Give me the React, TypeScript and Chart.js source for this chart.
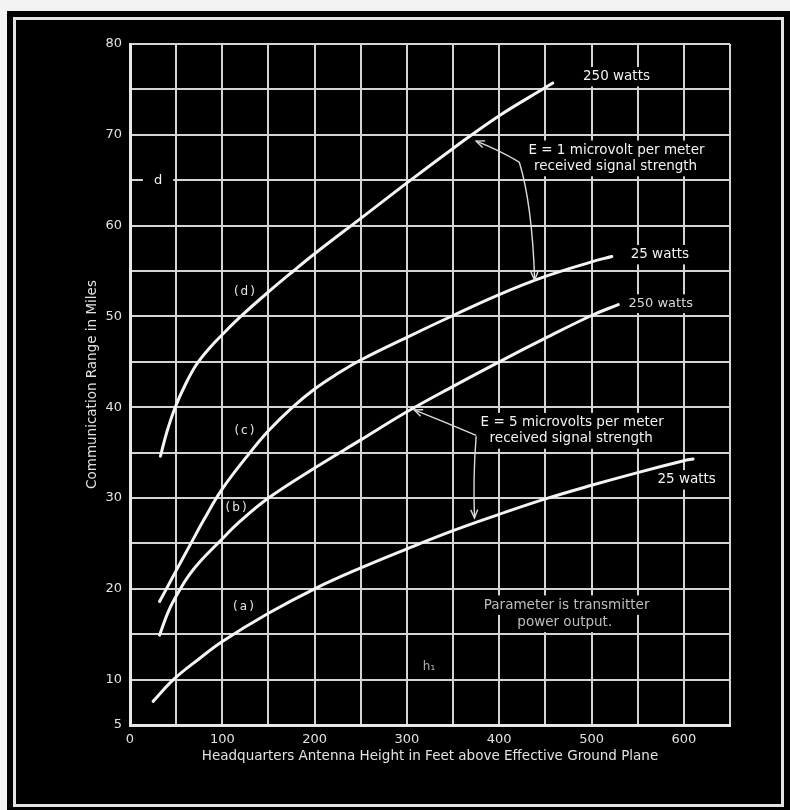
import React, { useEffect, useRef } from 'react';
import { Chart, registerables } from 'chart.js';

Chart.register(...registerables);

// Curve (d): 250 watts, E = 1 microvolt per meter
const curveDX = [33, 40, 49, 60, 72, 86, 100, 120, 150, 177, 200, 250, 300, 350, 400, 450, 458];
const curveDY = [34.6, 37.3, 40, 42.5, 44.7, 46.5, 48, 50, 52.7, 55, 56.9, 60.8, 64.7, 68.5, 72.1, 75.2, 75.7];
// Curve (c): 25 watts, E = 1 microvolt per meter
const curveCX = [32, 40, 50, 66, 80, 100, 130, 150, 175, 200, 225, 250, 300, 350, 400, 450, 500, 522];
const curveCY = [18.6, 20.1, 22, 25, 27.6, 31, 35, 37.4, 39.9, 42, 43.7, 45.2, 47.7, 50.1, 52.4, 54.4, 56, 56.6];
// Curve (b): 250 watts, E = 5 microvolts per meter
const curveBX = [32, 42, 54, 64, 75, 96, 120, 150, 200, 250, 300, 350, 400, 450, 500, 529];
const curveBY = [14.9, 17.6, 19.9, 21.5, 22.9, 25.1, 27.5, 30, 33.3, 36.4, 39.5, 42.3, 45, 47.6, 50.1, 51.3];
// Curve (a): 25 watts, E = 5 microvolts per meter
const curveAX = [25, 47, 75, 100, 150, 200, 250, 300, 350, 400, 450, 500, 550, 600, 610];
const curveAY = [7.6, 10, 12.3, 14.2, 17.3, 20, 22.3, 24.4, 26.4, 28.2, 29.9, 31.4, 32.8, 34.1, 34.3];

const xTickLabels = [0, 100, 200, 300, 400, 500, 600];
const yTickLabels = [5, 10, 20, 30, 40, 50, 60, 70, 80];

const X_MIN = 0, X_MAX = 650, X_STEP = 50;
const Y_MIN = 5, Y_MAX = 80, Y_STEP = 5;

const xTitle = 'Headquarters Antenna Height in Feet above Effective Ground Plane';
const yTitle = 'Communication Range in Miles';

// Annotation texts (data coordinates)
const noteTexts = [
  { text: '250 watts', x: 527, y: 76.4, size: 13.5, color: '#f2f2f2', spacing: 0, box: true },
  { text: 'E = 1 microvolt per meter', x: 527, y: 68.3, size: 13.5, color: '#f2f2f2', spacing: 0, box: true },
  { text: 'received signal strength', x: 526, y: 66.5, size: 13.5, color: '#f2f2f2', spacing: 0, box: true },
  { text: '25 watts', x: 574, y: 56.8, size: 13.5, color: '#f2f2f2', spacing: 0, box: true },
  { text: '250 watts', x: 575, y: 51.4, size: 13, color: '#d8d8d8', spacing: 0, box: true },
  { text: 'E = 5 microvolts per meter', x: 479, y: 38.3, size: 13.5, color: '#f2f2f2', spacing: 0, box: true },
  { text: 'received signal strength', x: 478, y: 36.5, size: 13.5, color: '#f2f2f2', spacing: 0, box: true },
  { text: '25 watts', x: 603, y: 32, size: 13.5, color: '#f2f2f2', spacing: 0, box: true },
  { text: 'Parameter is transmitter', x: 473, y: 18.2, size: 13.5, color: '#bdbdbd', spacing: 0, box: true },
  { text: 'power output.', x: 471, y: 16.3, size: 13.5, color: '#bdbdbd', spacing: 0, box: true },
  { text: '(d)', x: 125, y: 52.7, size: 12, color: '#e6e6e6', spacing: 2, box: false },
  { text: '(c)', x: 125, y: 37.4, size: 12, color: '#e6e6e6', spacing: 2, box: false },
  { text: '(b)', x: 116, y: 28.9, size: 12, color: '#e6e6e6', spacing: 2, box: false },
  { text: '(a)', x: 124, y: 18, size: 12, color: '#e6e6e6', spacing: 2, box: false },
  { text: 'd', x: 30.4, y: 64.9, size: 13, color: '#f2f2f2', spacing: 0, box: true },
  { text: 'h\u2081', x: 324, y: 11.4, size: 12, color: '#b0b0b0', spacing: 0, box: false },
];

// Arrows: [start, control, tip] in data coordinates
const noteArrows = [
  [[421.7, 67.0], [398, 68.4], [375, 69.3]],
  [[421.7, 67.0], [435.6, 62.4], [438.4, 54.0]],
  [[375, 36.9], [340, 38.4], [307.9, 39.7]],
  [[375, 36.8], [371.5, 32.3], [373.2, 27.8]],
];

const FONT = "'DejaVu Sans', 'Liberation Sans', sans-serif";

const overlayPlugin = {
  id: 'overlay',
  beforeDraw(chart: any) {
    const { ctx, width, height } = chart;
    ctx.save();
    ctx.fillStyle = '#f3f3f3';
    ctx.fillRect(0, 0, width, height);
    ctx.fillStyle = '#000';
    ctx.fillRect(7, 11, width - 7, height - 11);
    ctx.strokeStyle = '#e4e4e4';
    ctx.lineWidth = 3;
    ctx.strokeRect(14.5, 18.5, 768, 787);
    ctx.restore();
  },
  beforeDatasetsDraw(chart: any) {
    const { ctx, scales } = chart;
    ctx.save();
    ctx.fillStyle = '#000';
    for (const t of noteTexts) {
      if (!t.box) continue;
      ctx.font = `${t.size}px ${FONT}`;
      (ctx as any).letterSpacing = `${t.spacing}px`;
      const w = ctx.measureText(t.text).width;
      const px = scales.x.getPixelForValue(t.x);
      const py = scales.y.getPixelForValue(t.y);
      const padX = t.text === 'd' ? 11 : 5;
      ctx.fillRect(px - w / 2 - padX, py - t.size * 0.72, w + padX * 2, t.size * 1.44);
    }
    ctx.restore();
  },
  afterDatasetsDraw(chart: any) {
    const { ctx, scales } = chart;
    const P = (p: number[]) => [scales.x.getPixelForValue(p[0]), scales.y.getPixelForValue(p[1])];
    ctx.save();
    ctx.strokeStyle = '#dcdcdc';
    ctx.lineWidth = 1.4;
    for (const a of noteArrows) {
      const [s, c, e] = a.map(P);
      ctx.beginPath();
      ctx.moveTo(s[0], s[1]);
      ctx.quadraticCurveTo(c[0], c[1], e[0], e[1]);
      ctx.stroke();
      const ang = Math.atan2(e[1] - c[1], e[0] - c[0]);
      const L = 9;
      ctx.beginPath();
      ctx.moveTo(e[0] - L * Math.cos(ang - 0.4), e[1] - L * Math.sin(ang - 0.4));
      ctx.lineTo(e[0], e[1]);
      ctx.lineTo(e[0] - L * Math.cos(ang + 0.4), e[1] - L * Math.sin(ang + 0.4));
      ctx.stroke();
    }
    ctx.textAlign = 'center';
    ctx.textBaseline = 'middle';
    for (const t of noteTexts) {
      ctx.font = `${t.size}px ${FONT}`;
      (ctx as any).letterSpacing = `${t.spacing}px`;
      ctx.fillStyle = t.color;
      ctx.fillText(t.text, scales.x.getPixelForValue(t.x), scales.y.getPixelForValue(t.y));
    }
    ctx.restore();
  },
};

const makeSeries = (xs: number[], ys: number[]) => xs.map((x, i) => ({ x, y: ys[i] }));

export default function App() {
  const ref = useRef<HTMLCanvasElement | null>(null);
  useEffect(() => {
    document.body.style.margin = '0';
    const canvas = ref.current!;
    const lineStyle = {
      showLine: true,
      borderColor: '#f4f4f4',
      borderWidth: 3,
      pointRadius: 0,
      pointHoverRadius: 0,
      fill: false,
      tension: 0.4,
      borderCapStyle: 'round' as const,
      borderJoinStyle: 'round' as const,
    };
    const chart = new Chart(canvas, {
      type: 'scatter',
      data: {
        datasets: [
          { label: '(d) 250 watts, E = 1', data: makeSeries(curveDX, curveDY), ...lineStyle },
          { label: '(c) 25 watts, E = 1', data: makeSeries(curveCX, curveCY), ...lineStyle },
          { label: '(b) 250 watts, E = 5', data: makeSeries(curveBX, curveBY), ...lineStyle },
          { label: '(a) 25 watts, E = 5', data: makeSeries(curveAX, curveAY), ...lineStyle },
        ],
      },
      options: {
        responsive: false,
        animation: false,
        events: [],
        layout: { padding: { top: 44, right: 60, left: 0, bottom: 0 } },
        plugins: { legend: { display: false }, tooltip: { enabled: false } },
        scales: {
          x: {
            type: 'linear',
            min: X_MIN,
            max: X_MAX,
            afterFit: (s: any) => { s.height = 85; },
            ticks: {
              stepSize: X_STEP,
              autoSkip: false,
              maxRotation: 0,
              padding: 7,
              color: '#e2e2e2',
              font: { family: FONT, size: 13 },
              callback: (v: any) => (xTickLabels.includes(Number(v)) ? String(v) : ''),
            },
            grid: { color: '#d4d4d4', lineWidth: 2, drawTicks: false },
            border: { display: true, color: '#e8e8e8', width: 3 },
            title: {
              display: true,
              text: xTitle,
              color: '#e2e2e2',
              font: { family: FONT, size: 13.5 },
              padding: { top: 0, bottom: 45 },
            },
          },
          y: {
            type: 'linear',
            min: Y_MIN,
            max: Y_MAX,
            afterFit: (s: any) => { s.width = 130; },
            ticks: {
              stepSize: Y_STEP,
              autoSkip: false,
              padding: 8,
              color: '#e2e2e2',
              font: { family: FONT, size: 13 },
              callback: (v: any) => (yTickLabels.includes(Number(v)) ? String(v) : ''),
            },
            grid: { color: '#d4d4d4', lineWidth: 2, drawTicks: false },
            border: { display: true, color: '#e8e8e8', width: 3 },
            title: {
              display: true,
              text: yTitle,
              color: '#e2e2e2',
              font: { family: FONT, size: 13.5 },
              padding: { top: 84, bottom: 0 },
            },
          },
        },
      },
      plugins: [overlayPlugin],
    });
    return () => chart.destroy();
  }, []);
  return (
    <div style={{ position: 'fixed', left: 0, top: 0, width: 790, height: 810 }}>
      <canvas ref={ref} width={790} height={810} style={{ display: 'block', width: 790, height: 810 }} />
    </div>
  );
}
